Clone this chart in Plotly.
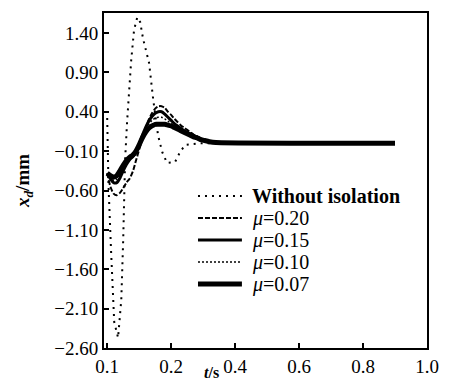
import plotly.graph_objects as go

# ---- data ----
t_mu = [0.00, 0.01, 0.02, 0.03, 0.04, 0.05, 0.06, 0.07, 0.08, 0.09,
        0.10, 0.11, 0.12, 0.13, 0.14, 0.15, 0.16, 0.17, 0.18, 0.19,
        0.20, 0.21, 0.22, 0.23, 0.24, 0.25, 0.26, 0.27, 0.28, 0.29,
        0.30, 0.32, 0.34, 0.90]

mu020 = [-0.38, -0.55, -0.64, -0.66, -0.63, -0.57, -0.50, -0.45, -0.36, -0.22,
         -0.08, 0.06, 0.19, 0.30, 0.38, 0.44, 0.47, 0.47, 0.45, 0.40,
         0.36, 0.31, 0.27, 0.23, 0.20, 0.17, 0.14, 0.11, 0.09, 0.07,
         0.05, 0.02, 0.01, 0.0]
mu015 = [-0.38, -0.45, -0.50, -0.50, -0.44, -0.35, -0.27, -0.21, -0.17, -0.12,
         -0.02, 0.10, 0.20, 0.28, 0.34, 0.38, 0.40, 0.40, 0.37, 0.33,
         0.29, 0.25, 0.22, 0.19, 0.16, 0.14, 0.12, 0.10, 0.08, 0.06,
         0.04, 0.02, 0.01, 0.0]
mu010 = [-0.38, -0.43, -0.47, -0.46, -0.40, -0.31, -0.24, -0.19, -0.15, -0.10,
         0.0, 0.10, 0.18, 0.24, 0.29, 0.32, 0.33, 0.33, 0.31, 0.28,
         0.25, 0.22, 0.19, 0.17, 0.15, 0.13, 0.11, 0.09, 0.07, 0.05,
         0.04, 0.02, 0.01, 0.0]
mu007 = [-0.38, -0.41, -0.43, -0.41, -0.35, -0.28, -0.22, -0.18, -0.15, -0.10,
         -0.02, 0.07, 0.14, 0.19, 0.22, 0.24, 0.24, 0.24, 0.24, 0.23,
         0.22, 0.20, 0.18, 0.16, 0.14, 0.12, 0.10, 0.08, 0.07, 0.05,
         0.04, 0.02, 0.01, 0.0]

t_free = [0.000, 0.004, 0.012, 0.022, 0.034, 0.044, 0.050, 0.056, 0.062, 0.075,
          0.084, 0.094, 0.103, 0.112, 0.131, 0.144, 0.159, 0.172, 0.187, 0.212,
          0.228, 0.244, 0.290, 0.900]
free = [0.32, -0.53, -1.36, -2.27, -2.47, -1.99, -1.23, -0.21, 0.26, 1.05,
        1.44, 1.60, 1.54, 1.33, 1.02, 0.55, 0.10, -0.11, -0.25, -0.24,
        -0.11, -0.02, 0.0, 0.0]

series_names = ["Without isolation", "<i>\u03bc</i>=0.20", "<i>\u03bc</i>=0.15",
                "<i>\u03bc</i>=0.10", "<i>\u03bc</i>=0.07"]

x_tickvals = [0.0, 0.2, 0.4, 0.6, 0.8, 1.0]
x_ticktext = ["0.1", "0.2", "0.4", "0.6", "0.8", "1.0"]
y_tickvals = [-2.60, -2.10, -1.60, -1.10, -0.60, -0.10, 0.40, 0.90, 1.40]
y_ticktext = ["\u22122.60", "\u22122.10", "\u22121.60", "\u22121.10", "\u22120.60",
              "\u22120.10", "0.40", "0.90", "1.40"]

FONT = "Liberation Serif, Times New Roman, serif"

styles = [
    dict(color="black", width=2, dash="2px,5px"),
    dict(color="black", width=2, dash="5px,2px"),
    dict(color="black", width=3, dash="solid"),
    dict(color="black", width=1.5, dash="2px,2px"),
    dict(color="black", width=5, dash="solid"),
]

fig = go.Figure()
fig.add_trace(go.Scatter(x=t_free, y=free, mode="lines", name=series_names[0],
                         line=styles[0]))
for nm, ys, st in zip(series_names[1:], [mu020, mu015, mu010, mu007], styles[1:]):
    fig.add_trace(go.Scatter(x=t_mu, y=ys, mode="lines", name=nm,
                             line=dict(st, shape="spline", smoothing=0.6)))

# legend drawn inside the plot area (paper coordinates)
leg_x0, leg_x1, leg_tx = 0.291, 0.427, 0.452
leg_y0, leg_dy = 0.4537, 0.0657
annotations = []
shapes = []
for i, (nm, st) in enumerate(zip(series_names, styles)):
    yy = leg_y0 - i * leg_dy
    shapes.append(dict(type="line", xref="paper", yref="paper",
                       x0=leg_x0, x1=leg_x1, y0=yy, y1=yy, line=st))
    annotations.append(dict(xref="paper", yref="paper", x=leg_tx, y=yy,
                            xanchor="left", yanchor="middle", showarrow=False,
                            text=("<b>%s</b>" % nm) if i == 0 else nm,
                            font=dict(family=FONT, size=20, color="black")))
annotations.append(dict(xref="paper", yref="paper", x=0.334, y=-0.1045,
                        xanchor="center", yanchor="bottom", showarrow=False,
                        text="<b><i>t</i>/s</b>",
                        font=dict(family=FONT, size=16, color="black")))

fig.update_layout(
    width=452, height=383,
    margin=dict(l=104, r=25, t=13, b=35),
    paper_bgcolor="white", plot_bgcolor="white",
    font=dict(family=FONT, color="black", size=18),
    showlegend=False,
    annotations=annotations,
    shapes=shapes,
    xaxis=dict(range=[-0.01, 1.0], tickvals=x_tickvals, ticktext=x_ticktext,
               ticks="inside", ticklen=5, tickwidth=1.5, tickcolor="black",
               showline=True, linecolor="black", linewidth=2, mirror=True,
               showgrid=False, zeroline=False, automargin=False,
               tickfont=dict(family=FONT, size=19)),
    yaxis=dict(range=[-2.60, 1.654], tickvals=y_tickvals, ticktext=y_ticktext,
               ticks="inside", ticklen=5, tickwidth=1.5, tickcolor="black",
               showline=True, linecolor="black", linewidth=2, mirror=True,
               showgrid=False, zeroline=False, automargin=False,
               tickfont=dict(family=FONT, size=19),
               title=dict(text="<b><i>x</i><sub><i>d</i></sub>/mm</b>",
                          font=dict(family=FONT, size=19), standoff=20)),
)

fig.write_html("out.html")
